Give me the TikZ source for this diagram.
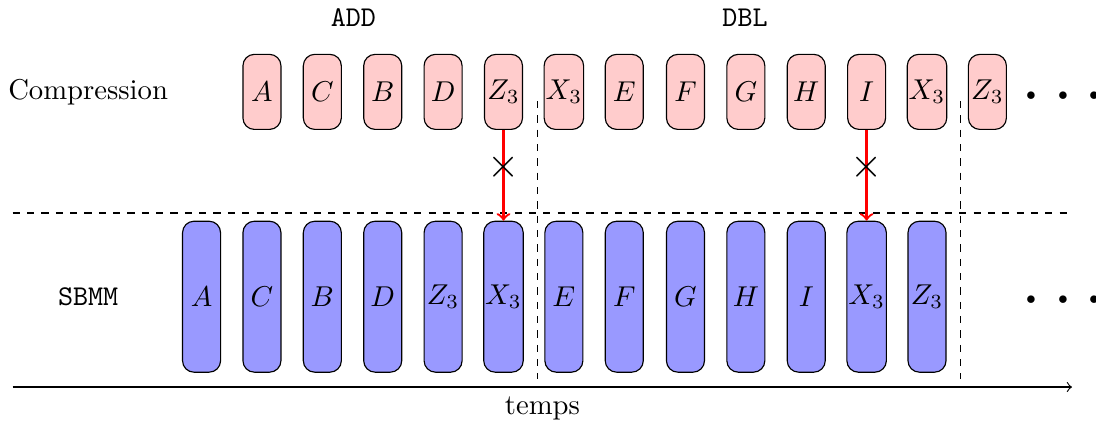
\documentclass[tikz,border=0pt]{standalone}
\usepackage{amsmath}
\usepackage{amssymb}
\usepackage{xcolor}
\usepackage{tikz}
\usetikzlibrary{arrows}
\usetikzlibrary{shapes}

\tikzset{
  compbox/.style={draw=black, fill=red!20, rounded corners, minimum width=0.466cm, minimum height=0.92cm, inner sep=0.5pt},
  sbmmbox/.style={draw=black, fill=blue!40, rounded corners, minimum width=0.466cm, minimum height=1.85cm, inner sep=0.5pt},
  cutline/.style={dash pattern=on 2.5pt off 2.5pt},
  lostarrow/.style={->, red, thick},
  moredots/.style={font=\fontsize{23}{28}\selectfont},
}

\begin{document}
\begin{tikzpicture}
\useasboundingbox (0, 0) rectangle (13.431, 5.196);

\node (comp) at (1.08, 4.07) {Compression};
\node (sbmm) at (1.08, 1.56) {\texttt{SBMM}};
\node (add) at (4.33, 4.975) {\texttt{ADD}};
\node (dbl) at (9.13, 4.975) {\texttt{DBL}};

\node[compbox] (c1) at (3.21, 4.07) {$A$};
\node[compbox] (c2) at (3.95, 4.07) {$C$};
\node[compbox] (c3) at (4.69, 4.07) {$B$};
\node[compbox] (c4) at (5.43, 4.07) {$D$};
\node[compbox] (c5) at (6.17, 4.07) {$Z_3$};
\node[compbox] (c6) at (6.91, 4.07) {$X_3$};
\node[compbox] (c7) at (7.65, 4.07) {$E$};
\node[compbox] (c8) at (8.40, 4.07) {$F$};
\node[compbox] (c9) at (9.14, 4.07) {$G$};
\node[compbox] (c10) at (9.88, 4.07) {$H$};
\node[compbox] (c11) at (10.62, 4.07) {$I$};
\node[compbox] (c12) at (11.36, 4.07) {$X_3$};
\node[compbox] (c13) at (12.10, 4.07) {$Z_3$};
\node[moredots] (cdots) at (13.10, 4.00) {$\cdots$};

\node[sbmmbox] (s1) at (2.47, 1.56) {$A$};
\node[sbmmbox] (s2) at (3.21, 1.56) {$C$};
\node[sbmmbox] (s3) at (3.95, 1.56) {$B$};
\node[sbmmbox] (s4) at (4.69, 1.56) {$D$};
\node[sbmmbox] (s5) at (5.43, 1.56) {$Z_3$};
\node[sbmmbox] (s6) at (6.17, 1.56) {$X_3$};
\node[sbmmbox] (s7) at (6.91, 1.56) {$E$};
\node[sbmmbox] (s8) at (7.65, 1.56) {$F$};
\node[sbmmbox] (s9) at (8.40, 1.56) {$G$};
\node[sbmmbox] (s10) at (9.14, 1.56) {$H$};
\node[sbmmbox] (s11) at (9.88, 1.56) {$I$};
\node[sbmmbox] (s12) at (10.62, 1.56) {$X_3$};
\node[sbmmbox] (s13) at (11.36, 1.56) {$Z_3$};
\node[moredots] (sdots) at (13.10, 1.50) {$\cdots$};

\coordinate (h0) at (0.156, 2.586);
\coordinate (h1) at (13.137, 2.586);
\coordinate (v0) at (6.585, 3.958);
\coordinate (v1) at (6.585, 0.551);
\coordinate (w0) at (11.773, 3.958);
\coordinate (w1) at (11.773, 0.551);
\coordinate (t0) at (0.156, 0.453);
\coordinate (t1) at (13.137, 0.453);

\draw[cutline] (h0) -- (h1);
\draw[cutline] (v0) -- (v1);
\draw[cutline] (w0) -- (w1);
\draw[->] (t0) -- node[below] {temps} (t1);

\draw[lostarrow] (c5.south) -- node[pos=0.41, text=black, font=\Large] {$\times$} (s6.north);
\draw[lostarrow] (c11.south) -- node[pos=0.41, text=black, font=\Large] {$\times$} (s12.north);
\end{tikzpicture}
\end{document}
